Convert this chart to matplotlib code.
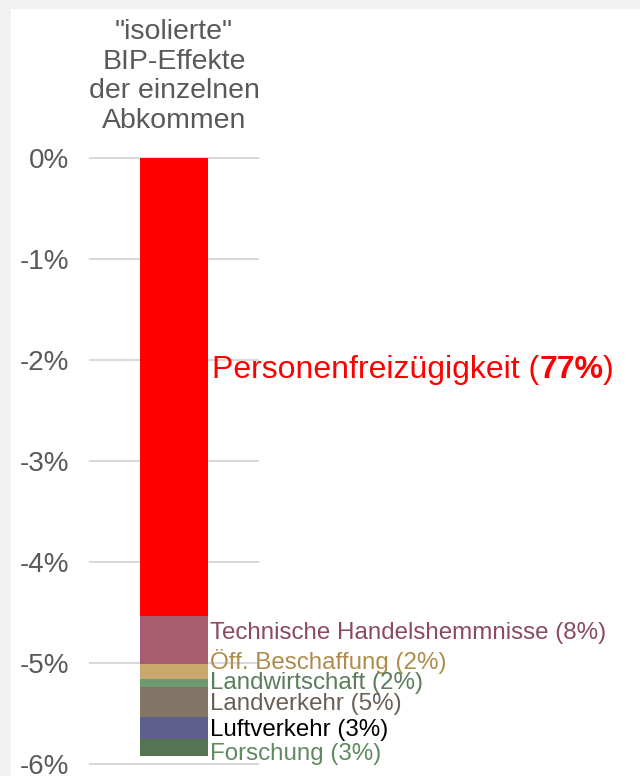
import matplotlib
matplotlib.use("Agg")
import matplotlib.pyplot as plt
from matplotlib.patches import Rectangle

plt.rcParams['font.family'] = ['Liberation Sans', 'DejaVu Sans']

# Data (percent of GDP, negative effects)
categories = ["Personenfreizügigkeit", "Technische Handelshemmnisse", "Öff. Beschaffung",
              "Landwirtschaft", "Landverkehr", "Luftverkehr", "Forschung"]
values = [4.54, 0.475, 0.14, 0.08, 0.30, 0.215, 0.17]
shares = ["77%", "8%", "2%", "2%", "5%", "3%", "3%"]
bar_colors = ["#ff0000", "#a85c70", "#c9a86e", "#6e9a70", "#837566", "#5f5f8e", "#557552"]
text_colors = ["#ff0000", "#8b4a62", "#b08b4b", "#5a7d5a", "#6b5f55", "#000000", "#5f8a62"]
label_y = [-2.10, -4.70, -4.99, -5.20, -5.41, -5.66, -5.90]
yticks = [0, -1, -2, -3, -4, -5, -6]
ytick_labels = ["0%", "-1%", "-2%", "-3%", "-4%", "-5%", "-6%"]
title_text = '"isolierte"\nBIP-Effekte\nder einzelnen\nAbkommen'

fig = plt.figure(figsize=(6.4, 7.76), dpi=100)
fig.patch.set_facecolor("#f2f2f2")
fig.patches.append(Rectangle((11/640, 0), 1 - 11/640, 1 - 9/776,
                             transform=fig.transFigure, facecolor="white",
                             edgecolor="none", zorder=0))

ax = fig.add_axes([90/640, 1 - 764/776, 168/640, (764 - 157.5)/776])
ax.set_zorder(2)
ax.set_facecolor("none")
ax.set_xlim(-0.5, 0.5)
ax.set_ylim(-6, 0)

bottom = 0.0
for v, c in zip(values, bar_colors):
    ax.bar(0, -v, bottom=bottom, width=0.405, color=c, zorder=3, linewidth=0)
    bottom -= v

for yv in yticks:
    ax.axhline(yv, color="#d9d9d9", linewidth=1.5, zorder=1, clip_on=False)

ax.set_yticks(yticks)
ax.set_yticklabels(ytick_labels, fontsize=20, color="#595959")
ax.tick_params(axis='y', length=0, pad=15)
ax.set_xticks([])
for s in ax.spines.values():
    s.set_visible(False)

# Labels
for i, (cat, sh, tc, ly) in enumerate(zip(categories, shares, text_colors, label_y)):
    if i == 0:
        t = ax.text(0.226, ly, cat + " (", color=tc, fontsize=23, va="center", ha="left",
                    zorder=5, clip_on=False)
        ann = ax.annotate(sh, xycoords=t, xy=(1, 0), va="bottom", ha="left",
                          color=tc, fontsize=23, fontweight="bold", zorder=5,
                          annotation_clip=False)
        ax.annotate(")", xycoords=ann, xy=(1, 0), va="bottom", ha="left",
                    color=tc, fontsize=23, zorder=5, annotation_clip=False)
    else:
        ax.text(0.215, ly, f"{cat} ({sh})", color=tc, fontsize=17.4,
                va="center", ha="left", zorder=5, clip_on=False)

fig.text(174/640, 1 - 19/776, title_text, ha="center", va="top",
         fontsize=20.5, color="#595959", linespacing=1.18, zorder=5)

fig.savefig("out.png", dpi=100, facecolor=fig.get_facecolor())
